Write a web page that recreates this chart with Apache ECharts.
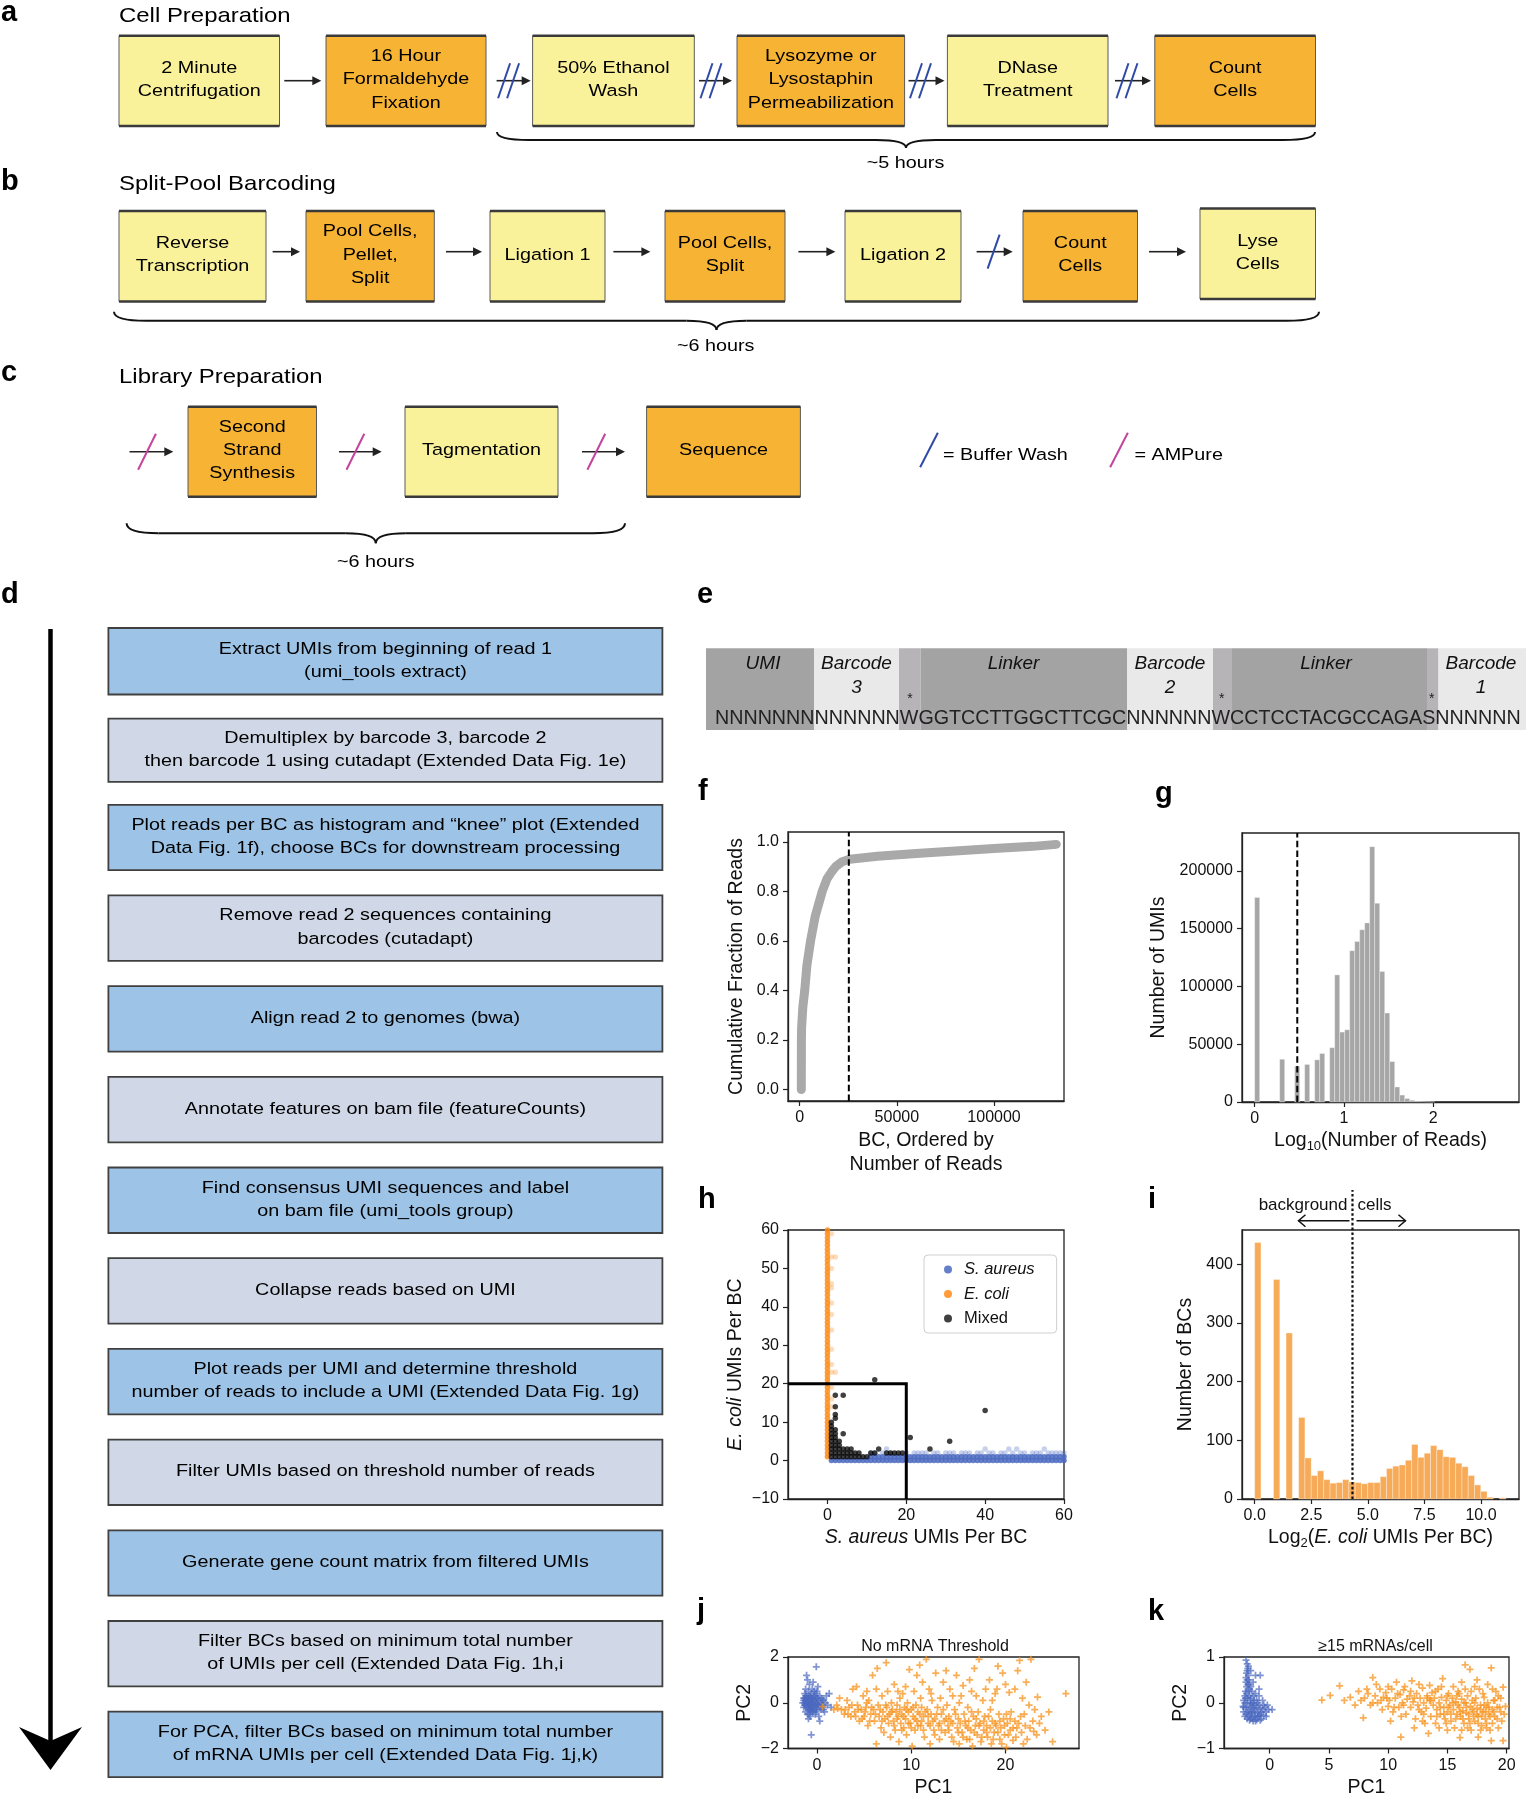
<!DOCTYPE html>
<html><head><meta charset="utf-8">
<script src="https://cdn.jsdelivr.net/npm/echarts@6/dist/echarts.min.js"></script>
<style>html,body{margin:0;padding:0;background:#fff}#c{width:1527px;height:1800px}</style>
</head><body><div id="c"></div>
<script>
// ================= DATA =================
// panel f: knee plot
const fRank = [850, 870, 900, 1000, 1600, 2600, 3700, 5600, 8000, 11600, 14000, 16500, 18500, 21900, 25700, 40000, 60000, 80000, 100000, 120000, 132000];
const fFraction = [0.0, 0.1, 0.2, 0.25, 0.33, 0.4, 0.5, 0.6, 0.7, 0.8, 0.85, 0.88, 0.9, 0.92, 0.93, 0.942, 0.953, 0.963, 0.973, 0.982, 0.99];
const fThreshold = 25300;
const fTicksX = [0, 50000, 100000];
const fTicksY = [0, 0.2, 0.4, 0.6, 0.8, 1.0];

// panel g: reads per UMI histogram (log10)
const gBinWidth = 0.056;
const gBinStart = [0.000, 0.280, 0.448, 0.560, 0.672, 0.728, 0.840, 0.896, 0.952, 1.008, 1.064, 1.120, 1.176, 1.232, 1.288, 1.344, 1.400, 1.456, 1.512, 1.568, 1.624, 1.680, 1.736, 1.792, 1.848, 1.904, 1.960];
const gCount = [177000, 37000, 31000, 32500, 36500, 42000, 47000, 110000, 60500, 62500, 131000, 139000, 149000, 155000, 221000, 172000, 113000, 77000, 35000, 13000, 6000, 3000, 1500, 800, 400, 200, 100];
const gThreshold = 0.477;
const gTicksX = [0, 1, 2];
const gTicksY = [0, 50000, 100000, 150000, 200000];

// panel h: species mixing
const hEcoliX0Y = [1,2,3,4,5,6,7,8,9,10,11,12,13,14,15,16,17,18,19,20,21,22,23,24,25,26,27,28,29,30,31,32,33,34,35,36,37,38,39,40,41,42,43,44,45,46,47,48,49,50,51,52,53,54,55,56,57,58,59,60];
const hEcoliFaint = [[1,59],[1,53],[2,53],[1,50],[1,46],[1,45],[1,41],[1,38],[1,34],[1,29],[1,25],[2,23],[1,23],[1,19],[1,16],[1,14]];
const hAureusY0X = [1,2,3,4,5,6,7,8,9,10,11,12,13,14,15,16,17,18,19,20,21,22,23,24,25,26,27,28,29,30,31,32,33,34,35,36,37,38,39,40,41,42,43,44,45,46,47,48,49,50,51,52,53,54,55,56,57,58,59,60];
const hAureusY1X = [11,12,13,14,15,16,17,18,19,20,21,22,23,24,25,26,27,28,29,30,31,32,33,34,35,36,37,38,39,40,41,42,43,44,45,46,47,48,49,50,51,52,53,54,55,56,57,58,59,60];
const hAureusFaint = [[11,2],[12,2],[14,2],[16,2],[20,2],[22,2],[23,2],[24,2],[25,2],[27,2],[28,2],[30,2],[31,2],[32,2],[34,2],[35,2],[36,2],[38,2],[39,2],[41,2],[42,2],[44,2],[45,2],[47,2],[49,2],[50,2],[52,2],[53,2],[54,2],[56,2],[57,2],[58,2],[59,2],[60,2],[15,3],[40,3],[46,3],[48,3],[55,3]];
const hMixed = [[1,1],[1,2],[1,3],[1,4],[1,5],[1,6],[1,7],[1,8],[1,9],[1,10],[2,1],[2,2],[2,3],[2,4],[2,5],[2,6],[2,7],[2,8],[2,11],[2,12],[2,14],[2,17],[3,1],[3,2],[3,3],[3,4],[3,5],[4,1],[4,2],[4,3],[4,7],[4,17],[5,1],[5,2],[5,3],[6,1],[6,2],[6,3],[7,1],[7,2],[8,1],[8,2],[9,1],[10,1],[11,2],[12,2],[12,21],[13,3],[15,2],[16,2],[17,2],[18,2],[19,2],[21,6],[26,3],[31,5],[40,13]];
const hGate = [[-10,20],[20,20],[20,-10]];
const hTicksX = [0, 20, 40, 60];
const hTicksY = [-10, 0, 10, 20, 30, 40, 50, 60];

// panel i: E. coli UMIs per BC histogram (log2)
const iBinWidth = 0.2775;
const iBinStart = [0, 0.8325, 1.3875, 1.9425, 2.22, 2.4975, 2.775, 3.0525, 3.33, 3.6075, 3.885, 4.1625, 4.44, 4.7175, 4.995, 5.2725, 5.55, 5.8275, 6.105, 6.3825, 6.66, 6.9375, 7.215, 7.4925, 7.77, 8.0475, 8.325, 8.6025, 8.88, 9.1575, 9.435, 9.7125, 9.99, 10.2675, 10.8225];
const iCount = [437, 374, 283, 139, 70, 40, 48, 33, 27, 28, 33, 29, 28, 26, 28, 28, 38, 52, 56, 58, 66, 93, 71, 78, 91, 84, 72, 71, 61, 55, 40, 24, 13, 3, 2];
const iThreshold = 4.3219;
const iTicksX = [0, 2.5, 5, 7.5, 10];
const iTicksY = [0, 100, 200, 300, 400];

// panel j: PCA, no mRNA threshold
const jAureus = [[-1.5,0.0],[-1.4,0.2],[-1.4,-0.2],[-1.3,0.4],[-1.3,-0.1],[-1.2,0.1],[-1.2,-0.4],[-1.1,1.2],[-1.1,0.3],[-1.1,-0.2],[-1.0,1.0],[-1.0,0.0],[-1.0,-0.5],[-0.9,0.5],[-0.9,0.2],[-0.9,-0.1],[-0.8,0.1],[-0.8,-0.3],[-0.8,0.8],[-0.7,0.3],[-0.7,-0.1],[-0.7,-0.6],[-0.6,0.0],[-0.6,0.4],[-0.6,-0.3],[-0.6,-1.4],[-0.5,0.2],[-0.5,-0.2],[-0.5,0.6],[-0.4,0.0],[-0.4,-0.4],[-0.3,0.3],[-0.3,-0.1],[-0.2,0.1],[-0.2,-0.5],[-0.1,0.4],[-0.1,-0.2],[-0.07,1.57],[0.0,0.0],[0.0,-0.3],[0.1,0.2],[0.1,0.7],[0.2,-0.1],[0.2,-0.6],[0.3,0.3],[0.4,0.0],[0.4,-0.3],[0.5,0.2],[0.6,-0.2],[0.7,0.1],[0.8,-0.4],[0.9,0.0],[1.0,0.3],[1.1,-0.1],[1.3,0.4],[1.5,-0.2],[-1.2,0.6],[-0.4,0.9],[-0.9,-0.7],[0.3,-0.8],
  [-1.4,0.1],[-1.3,0.0],[-1.2,-0.1],[-1.1,0.1],[-1.0,0.2],[-1.0,-0.2],[-0.9,0.0],[-0.9,-0.3],[-0.8,0.3],[-0.8,-0.1],[-0.7,0.1],[-0.7,-0.3],[-0.6,0.2],[-0.6,-0.1],[-0.5,0.0],[-0.5,-0.4],[-0.4,0.2],[-0.4,-0.2],[-0.3,0.1],[-0.3,-0.3],[-0.2,0.3],[-0.2,-0.1],[-0.1,0.0],[-0.1,-0.4],[0.0,0.2],[0.1,-0.1],[0.2,0.1],[0.3,-0.2],[0.5,-0.1],[0.6,0.1],[-1.3,0.2],[-1.2,0.3],[-0.3,0.5],[-0.8,-0.5],[0.0,0.5],[0.7,-0.3]];
const jEcoli = [[2.1,-0.1],[2.4,0.2],[2.6,-0.3],[2.9,-0.5],[3.2,0.1],[3.4,-0.2],[3.6,-0.6],[3.8,0.6],[4.0,-0.4],[4.2,0.7],[4.3,-0.1],[4.5,-0.8],[4.7,-0.3],[4.9,0.3],[5.0,-0.6],[5.2,-0.2],[5.4,-1.0],[5.5,0.1],[5.7,-0.5],[5.9,1.2],[6.0,-0.3],[6.1,-0.8],[6.3,-1.8],[6.4,1.5],[6.5,-0.1],[6.6,-0.6],[6.8,-1.1],[6.9,0.3],[7.0,-0.4],[7.1,-1.3],[7.2,-0.7],[7.35,1.75],[7.4,-0.2],[7.5,0.5],[7.6,-0.9],[7.7,-0.5],[7.8,-1.5],[7.9,0.0],[8.0,-0.3],[8.1,-0.8],[8.2,0.8],[8.3,-1.2],[8.4,-0.4],[8.5,-0.1],[8.6,-0.6],[8.7,-1.7],[8.8,0.2],[8.9,-0.9],[9.0,-0.5],[9.1,0.4],[9.2,-1.1],[9.3,-0.2],[9.4,-0.7],[9.5,-1.4],[9.6,0.0],[9.7,-0.4],[9.8,1.45],[9.9,-0.9],[10.0,-0.3],[10.1,-1.9],[10.2,-0.6],[10.3,0.5],[10.4,-1.2],[10.5,-0.1],[10.6,-0.8],[10.7,-0.4],[10.9,1.65],[11.0,-1.0],[11.1,-0.2],[11.2,0.9],[11.3,-0.6],[11.4,-1.5],[11.6,1.9],[11.7,-0.3],[11.8,-0.9],[11.9,0.6],[12.0,-1.8],[12.1,-0.5],[12.2,0.1],[12.4,-1.2],[12.5,-0.7],[12.6,1.3],[12.8,-0.2],[12.9,-1.0],[13.0,-1.6],[13.2,-0.5],[13.4,0.9],[13.5,-0.8],[13.6,-1.3],[13.8,-0.1],[13.9,-1.0],[14.0,-0.6],[14.1,0.6],[14.3,-1.5],[14.4,-0.9],[14.6,-0.3],[14.8,1.2],[14.9,-1.1],[15.0,-0.7],[15.1,-1.8],[15.3,0.3],[15.4,-1.3],[15.5,0.75],[15.6,-0.5],[15.8,-1.0],[15.9,-1.6],[16.0,-0.2],[16.1,-0.8],[16.3,-1.2],[16.4,0.5],[16.5,-1.9],[16.6,-0.6],[16.7,1.5],[16.8,-1.0],[17.0,-1.4],[17.1,-0.4],[17.2,1.9],[17.3,-0.9],[17.4,-1.7],[17.6,0.1],[17.7,-1.2],[17.8,-0.6],[18.0,-1.0],[18.1,-1.5],[18.3,1.0],[18.4,-0.3],[18.5,-1.8],[18.6,-0.8],[18.8,-1.3],[18.9,0.4],[19.0,-1.0],[19.1,0.6],[19.3,-0.5],[19.4,-1.6],[19.5,-1.1],[19.7,1.3],[19.8,-0.7],[19.9,-1.4],[20.1,-1.95],[20.2,-0.9],[20.4,0.45],[20.5,-1.2],[20.6,-0.4],[20.8,-1.65],[21.0,-0.8],[21.2,-1.1],[21.3,1.4],[21.5,1.85],[21.6,-0.6],[21.8,0.2],[21.9,-1.8],[22.1,-1.0],[22.5,-0.1],[22.7,1.9],[22.9,-0.8],[23.0,-1.25],[23.3,-1.4],[23.4,0.25],[23.8,-0.6],[25.0,-1.7],[26.4,0.4],[0.6,-0.17],[1.8,-0.3],[2.2,-0.25],
  [3.0,-0.3],[3.3,-0.5],[3.7,-0.1],[4.1,-0.6],[4.4,-0.3],[4.8,-0.7],[5.1,-0.4],[5.3,0.0],[5.6,-0.8],[5.8,-0.2],[6.2,-0.5],[6.7,-0.3],[6.9,-0.8],[7.3,-0.1],[7.5,-0.6],[7.9,-0.4],[8.2,-1.0],[8.5,-0.7],[8.8,-0.3],[9.0,-1.2],[9.2,-0.6],[9.5,-0.3],[9.7,-0.9],[10.0,-1.1],[10.2,-0.2],[10.4,-0.7],[10.7,-1.0],[10.9,-0.5],[11.1,-0.8],[11.3,-1.2],[11.5,-0.4],[11.8,-0.6],[12.0,-1.0],[12.3,-0.8],[12.5,-1.4],[12.7,-0.5],[13.0,-0.9],[13.2,-1.2],[13.4,-0.3],[13.7,-0.7],[14.0,-1.2],[14.2,-0.8],[14.5,-1.7],[14.7,-0.5],[15.0,-1.3],[15.2,-0.9],[15.5,-1.5],[15.7,-0.8],[16.0,-1.1],[16.2,-1.6],[16.4,-0.4],[16.7,-1.3],[16.9,-0.7],[17.2,-1.0],[17.5,-1.5],[17.7,-0.8],[18.0,-1.3],[18.2,-0.6],[18.4,-1.1],[18.7,-1.6],[18.9,-0.9],[19.2,-1.3],[19.4,-0.8],[19.6,-1.8],[19.9,-1.0],[20.1,-0.5],[20.3,-1.4],[20.5,-0.7],[20.8,-1.1],[21.1,-1.5],[21.4,-0.9],[21.7,-1.3],[22.0,-0.5],[22.3,-1.6],[22.6,-1.1],[23.6,-0.9],[24.2,-1.2],[24.6,-0.4],[12.1,0.4],[13.1,0.2],[15.1,0.0],[16.9,0.3],[18.6,0.1],[20.0,0.8],[19.2,1.6],[17.9,0.6],[14.4,0.3],[11.0,0.2],[9.4,0.7],[8.6,0.5],[6.3,0.6],[5.3,0.5],[21.0,0.6],[22.2,0.9],[23.1,-0.3],[16.2,1.0],[13.7,1.4],[10.6,1.2]];
const jTicksX = [0, 10, 20];
const jTicksY = [-2, 0, 2];

// panel k: PCA, >=15 mRNAs/cell
const kAureus = [[-2.0,0.93],[-1.9,0.85],[-1.85,0.75],[-1.95,0.65],[-1.8,0.6],[-1.9,0.5],[-2.0,0.45],[-1.75,0.4],[-1.2,0.6],[-0.8,0.6],[-1.95,0.35],[-1.7,0.3],[-2.05,0.25],[-1.5,0.25],[-1.2,0.2],[-0.9,0.15],[-2.1,0.15],[-1.85,0.1],[-1.6,0.1],[-1.3,0.05],[-2.2,0.05],[-1.9,0.0],[-1.6,-0.02],[-1.3,-0.05],[-1.0,0.0],[-0.6,0.05],[-2.25,-0.08],[-2.0,-0.1],[-1.7,-0.1],[-1.4,-0.12],[-1.1,-0.1],[-0.8,-0.12],[-0.4,-0.1],[-0.1,-0.15],[-2.2,-0.2],[-1.9,-0.2],[-1.6,-0.22],[-1.3,-0.2],[-1.0,-0.22],[-0.7,-0.2],[-0.3,-0.2],[-2.1,-0.3],[-1.8,-0.3],[-1.5,-0.32],[-1.2,-0.3],[-0.9,-0.28],[-0.5,-0.28],[-1.7,-0.38],[-1.4,-0.4],[-1.1,-0.37],[-0.7,-0.35],[0.2,-0.15],[-0.9,0.3],[-1.4,0.45],[-1.6,0.7],
  [-2.2,-0.1],[-2.0,-0.25],[-1.8,-0.15],[-1.7,-0.25],[-1.5,-0.05],[-1.5,-0.2],[-1.4,0.0],[-1.3,-0.3],[-1.2,-0.15],[-1.1,0.05],[-1.0,-0.3],[-0.9,-0.05],[-0.8,-0.25],[-0.6,-0.15],[-0.5,-0.05],[-0.3,-0.3],[-0.2,-0.05],[-2.1,0.0],[-1.95,0.2],[-1.8,0.25],[-1.7,0.15],[-1.6,0.35],[-1.85,0.4],[-1.9,0.7],[-2.0,0.55],[-1.75,0.5],[-1.8,0.8],[-2.05,0.1],[-1.65,0.05],[-1.35,0.15],[-1.6,-0.35],[-1.9,-0.35],[-1.2,-0.4],[-0.8,-0.38]];
const kEcoli = [[4.4,0.06],[5.1,0.16],[5.9,0.37],[6.3,0.05],[6.8,0.12],[7.2,-0.05],[7.5,0.25],[7.9,-0.33],[8.0,0.1],[8.3,0.2],[8.5,-0.05],[8.7,0.55],[8.9,0.15],[9.1,0.0],[9.3,0.3],[9.5,-0.15],[9.6,0.12],[9.8,0.22],[10.0,-0.08],[10.1,0.05],[10.3,0.3],[10.4,-0.2],[10.6,0.1],[10.7,0.45],[10.9,-0.1],[11.0,0.18],[11.07,-0.75],[11.2,0.0],[11.3,0.28],[11.5,-0.25],[11.6,0.08],[11.8,0.15],[11.9,-0.1],[12.0,0.48],[12.1,0.02],[12.3,-0.35],[12.4,0.2],[12.5,-0.05],[12.7,0.1],[12.8,-0.2],[12.9,0.32],[13.0,0.0],[13.2,-0.12],[13.3,0.15],[13.4,-0.67],[13.5,0.05],[13.6,-0.3],[13.7,0.22],[13.8,-0.05],[13.9,0.1],[14.0,-0.45],[14.1,-0.15],[14.2,0.3],[14.3,0.0],[14.4,-0.25],[14.5,0.12],[14.6,0.53],[14.7,-0.1],[14.8,-0.35],[14.9,0.05],[15.0,-0.2],[15.1,0.2],[15.2,-0.05],[15.3,-0.4],[15.4,0.1],[15.5,-0.15],[15.6,-0.55],[15.7,0.02],[15.8,-0.25],[15.9,0.25],[16.0,-0.1],[16.06,-0.76],[16.1,-0.3],[16.2,0.08],[16.3,-0.18],[16.4,-0.45],[16.5,0.83],[16.55,0.0],[16.6,-0.22],[16.7,0.15],[16.8,-0.35],[16.9,0.73],[16.95,-0.08],[17.0,-0.6],[17.1,0.05],[17.2,-0.2],[17.3,-0.4],[17.4,0.1],[17.5,-0.12],[17.6,-0.3],[17.7,0.3],[17.8,-0.05],[17.9,-0.5],[18.0,-0.2],[18.1,0.12],[18.2,-0.35],[18.3,-0.1],[18.4,0.0],[18.5,-0.25],[18.6,-0.6],[18.7,0.76],[18.7,-0.83],[18.8,-0.15],[18.9,0.05],[19.0,-0.3],[19.2,-0.1],[19.3,0.15],[19.5,-0.2],[19.7,0.34],[19.7,-0.83],[19.9,-0.08],[19.6,-0.4],[15.5,0.35],[16.2,0.45],[14.3,-0.55],[17.5,0.5],[18.4,0.4],[12.6,0.4],[13.1,-0.45],[11.4,0.35],[10.2,-0.4],[9.0,0.4],[17.0,0.25],[18.0,0.2],[19.1,0.25],[16.0,0.2],[15.0,0.15],[14.0,0.25],[13.5,0.38],[12.2,-0.55],[17.6,-0.75],[18.3,-0.45],[16.7,-0.55],
  [14.1,-0.3],[14.4,-0.1],[14.7,-0.25],[14.9,-0.45],[15.1,-0.1],[15.3,-0.25],[15.5,0.0],[15.7,-0.35],[15.9,-0.05],[16.1,-0.2],[16.3,-0.35],[16.4,0.0],[16.6,-0.1],[16.8,-0.25],[16.9,-0.45],[17.1,-0.15],[17.2,-0.3],[17.3,0.0],[17.5,-0.25],[17.6,-0.45],[17.8,-0.15],[17.9,-0.3],[18.1,-0.05],[18.2,-0.2],[18.3,-0.55],[18.5,-0.1],[18.6,-0.3],[18.8,-0.45],[18.9,-0.2],[19.0,0.05],[19.2,-0.35],[19.4,-0.1],[19.5,0.1],[19.8,-0.25],[13.0,-0.25],[13.3,0.1],[12.6,-0.15],[12.2,0.1],[11.9,0.25],[11.3,-0.05],[10.8,0.2],[10.5,-0.1],[9.9,0.1],[9.4,0.05],[8.7,0.0],[8.2,0.3],[7.7,0.05],[10.0,0.35],[11.1,-0.3],[12.9,-0.4],[13.6,0.05],[14.5,0.35],[15.8,0.15],[16.5,0.3],[17.3,0.35],[18.8,0.3],[19.3,-0.55],[16.2,-0.6],[17.8,-0.6],[15.0,-0.6]];
const kTicksX = [0, 5, 10, 15, 20];
const kTicksY = [-1, 0, 1];

// diagram texts
const aSteps = ['2 Minute\nCentrifugation', '16 Hour\nFormaldehyde\nFixation', '50% Ethanol\nWash', 'Lysozyme or\nLysostaphin\nPermeabilization', 'DNase\nTreatment', 'Count\nCells'];
const bSteps = ['Reverse\nTranscription', 'Pool Cells,\nPellet,\nSplit', 'Ligation 1', 'Pool Cells,\nSplit', 'Ligation 2', 'Count\nCells', 'Lyse\nCells'];
const cSteps = ['Second\nStrand\nSynthesis', 'Tagmentation', 'Sequence'];
const dSteps = [
  'Extract UMIs from beginning of read 1\n(umi_tools extract)',
  'Demultiplex by barcode 3, barcode 2\nthen barcode 1 using cutadapt (Extended Data Fig. 1e)',
  'Plot reads per BC as histogram and \u201cknee\u201d plot (Extended\nData Fig. 1f), choose BCs for downstream processing',
  'Remove read 2 sequences containing\nbarcodes (cutadapt)',
  'Align read 2 to genomes (bwa)',
  'Annotate features on bam file (featureCounts)',
  'Find consensus UMI sequences and label\non bam file (umi_tools group)',
  'Collapse reads based on UMI',
  'Plot reads per UMI and determine threshold\nnumber of reads to include a UMI (Extended Data Fig. 1g)',
  'Filter UMIs based on threshold number of reads',
  'Generate gene count matrix from filtered UMIs',
  'Filter BCs based on minimum total number\nof UMIs per cell (Extended Data Fig. 1h,i',
  'For PCA, filter BCs based on minimum total number\nof mRNA UMIs per cell (Extended Data Fig. 1j,k)'
];
const eSequence = 'NNNNNNNNNNNNNWGGTCCTTGGCTTCGCNNNNNNWCCTCCTACGCCAGASNNNNNN';

// ================= RENDER =================
const FONT = "'Liberation Sans', Arial, Helvetica, sans-serif";
const YEL = '#FAF29B', ORA = '#F6B334', DBLUE = '#9DC3E6', DGRAY = '#D0D8E7';
const BLUE = '#4A68BF', ORANGE = '#FF8C17';
const SLASH_B = '#2E4AA6', SLASH_M = '#C2449C';
const SX = 1.215, FS = 16.3, LH = 23.3;

const G = [];
function T(x, y, text, o) {
  o = o || {};
  const al = o.align || 'center', va = o.va || 'middle';
  G.push({type: 'text', x: x, y: y, scaleX: o.sx || 1, z: 20,
    style: {text: text, fill: o.color || '#000', fontSize: o.fs || FS, fontFamily: FONT,
      fontStyle: o.italic ? 'italic' : 'normal', fontWeight: o.bold ? 'bold' : 'normal',
      align: al, verticalAlign: va, textAlign: al, textVerticalAlign: va, lineHeight: o.lh || LH}});
}
function box(x1, y1, x2, y2, fill, text) {
  G.push({type: 'rect', shape: {x: x1, y: y1, width: x2 - x1, height: y2 - y1}, style: {fill: fill, stroke: '#5a5a5a', lineWidth: 1}, z: 5});
  G.push({type: 'line', shape: {x1: x1, y1: y1, x2: x2, y2: y1}, style: {stroke: '#3a3a3a', lineWidth: 2.4}, z: 6});
  G.push({type: 'line', shape: {x1: x1, y1: y2, x2: x2, y2: y2}, style: {stroke: '#3a3a3a', lineWidth: 2.4}, z: 6});
  T((x1 + x2) / 2, (y1 + y2) / 2 - 1, text, {sx: SX});
}
function arrow(x1, x2, y) {
  G.push({type: 'line', shape: {x1: x1, y1: y, x2: x2 - 6, y2: y}, style: {stroke: '#222', lineWidth: 1.6}, z: 6});
  G.push({type: 'polygon', shape: {points: [[x2, y], [x2 - 9, y - 4.5], [x2 - 9, y + 4.5]]}, style: {fill: '#222'}, z: 6});
}
function slash(xc, yc, dx, dy, color) {
  G.push({type: 'line', shape: {x1: xc - dx / 2, y1: yc + dy / 2, x2: xc + dx / 2, y2: yc - dy / 2}, style: {stroke: color, lineWidth: 2}, z: 7});
}
function brace(xa, xb, y0, ym, y1) {
  const xc = (xa + xb) / 2, r = 32, rt = 30;
  const st = {stroke: '#111', lineWidth: 2, fill: 'none'};
  G.push({type: 'bezierCurve', shape: {x1: xa, y1: y0, x2: xa + r, y2: ym, cpx1: xa, cpy1: ym}, style: st});
  G.push({type: 'line', shape: {x1: xa + r, y1: ym, x2: xc - rt, y2: ym}, style: st});
  G.push({type: 'bezierCurve', shape: {x1: xc - rt, y1: ym, x2: xc, y2: y1, cpx1: xc, cpy1: ym}, style: st});
  G.push({type: 'bezierCurve', shape: {x1: xc + rt, y1: ym, x2: xc, y2: y1, cpx1: xc, cpy1: ym}, style: st});
  G.push({type: 'line', shape: {x1: xc + rt, y1: ym, x2: xb - r, y2: ym}, style: st});
  G.push({type: 'bezierCurve', shape: {x1: xb, y1: y0, x2: xb - r, y2: ym, cpx1: xb, cpy1: ym}, style: st});
}
function letter(ch, x, baseline) { T(x, baseline - 10.2, ch, {fs: 29, bold: true, align: 'left'}); }

// ---- panel a ----
letter('a', 1, 23.3);
T(119, 16, 'Cell Preparation', {fs: 21, sx: 1.14, align: 'left'});
const aX = [[119, 279.5], [326, 486], [532.6, 694.3], [737, 904.6], [947.4, 1108], [1154.8, 1315.5]];
const aFill = [YEL, ORA, YEL, ORA, YEL, ORA];
aX.forEach((p, i) => box(p[0], 35.7, p[1], 126, aFill[i], aSteps[i]));
[[284.3, 321.3], [496.6, 530.7], [699, 732], [908.5, 944.5], [1115, 1151]].forEach((p, i) => {
  arrow(p[0], p[1], 80.7);
  if (i > 0) { slash(p[0] + 7.5, 80.7, 12, 35, SLASH_B); slash(p[0] + 16.5, 80.7, 12, 35, SLASH_B); }
});
brace(497, 1315, 132, 140, 148);
T(905.5, 164, '~5 hours', {sx: SX});

// ---- panel b ----
letter('b', 1, 191.7);
T(119, 184, 'Split-Pool Barcoding', {fs: 21, sx: 1.14, align: 'left'});
const bX = [[119, 266], [306, 434.3], [490, 605], [665, 785], [845, 961], [1023, 1137.5], [1200, 1315.5]];
const bFill = [YEL, ORA, YEL, ORA, YEL, ORA, YEL];
bX.forEach((p, i) => { const y1 = i === 6 ? 208.5 : 211, y2 = i === 6 ? 299 : 301.5; box(p[0], y1, p[1], y2, bFill[i], bSteps[i]); });
[[272.6, 300], [446, 482], [613.4, 650.4], [798.4, 835.4], [976.6, 1012.7], [1149, 1186]].forEach((p, i) => {
  arrow(p[0], p[1], 251.7);
  if (i === 4) slash(p[0] + 17, 251.7, 12, 34, SLASH_B);
});
brace(114, 1319, 311.7, 320.7, 330);
T(715.7, 346.5, '~6 hours', {sx: SX});

// ---- panel c ----
letter('c', 1, 383);
T(119, 377, 'Library Preparation', {fs: 21, sx: 1.14, align: 'left'});
const cX = [[188, 316.5], [405, 558], [646.6, 800.4]];
const cFill = [ORA, YEL, ORA];
cX.forEach((p, i) => box(p[0], 406.7, p[1], 496.7, cFill[i], cSteps[i]));
[[129.5, 173.3, 147], [339, 381.7, 355.4], [582, 625, 596.3]].forEach(p => {
  arrow(p[0], p[1], 451.7);
  slash(p[2], 451.7, 17.8, 36, SLASH_M);
});
slash(929, 450, 17.7, 34.6, SLASH_B);
T(943, 456, '= Buffer Wash', {sx: SX, align: 'left'});
slash(1119, 450, 17.7, 34.6, SLASH_M);
T(1134.4, 456, '= AMPure', {sx: SX, align: 'left'});
brace(126.6, 625, 523.3, 533.3, 543.3);
T(375.8, 563, '~6 hours', {sx: SX});

// ---- panel d ----
letter('d', 1, 605);
const dTop = [628, 718.6, 804.8, 895.4, 986.1, 1076.8, 1167.5, 1258.2, 1348.9, 1439.6, 1530.3, 1621, 1711.7];
const dBot = [694.5, 781.8, 870.2, 960.9, 1051.6, 1142.3, 1233, 1323.6, 1414.3, 1505, 1595.7, 1686.4, 1777.1];
dSteps.forEach((s, i) => {
  G.push({type: 'rect', shape: {x: 108.4, y: dTop[i], width: 554, height: dBot[i] - dTop[i]}, style: {fill: i % 2 === 0 ? DBLUE : DGRAY, stroke: '#404040', lineWidth: 1.8}, z: 5});
  T(385.4, (dTop[i] + dBot[i]) / 2 - 0.5, s, {sx: SX});
});
G.push({type: 'line', shape: {x1: 50.5, y1: 629, x2: 50.5, y2: 1745}, style: {stroke: '#000', lineWidth: 4.5}, z: 5});
G.push({type: 'polygon', shape: {points: [[19, 1727], [50.5, 1741], [82, 1727], [50.5, 1770]]}, style: {fill: '#000'}, z: 5});

// ---- panel e ----
letter('e', 697, 605);
const eSeg = [[706, 814, '#A3A3A3'], [814, 899, '#E9E9E9'], [899, 920.6, '#B6B4B6'], [920.6, 1127, '#A3A3A3'], [1127, 1213, '#E9E9E9'], [1213, 1232, '#B6B4B6'], [1232, 1427, '#A3A3A3'], [1427, 1438.5, '#B6B4B6'], [1438.5, 1526, '#E9E9E9']];
eSeg.forEach(s => G.push({type: 'rect', shape: {x: s[0], y: 648.3, width: s[1] - s[0], height: 81.7}, style: {fill: s[2]}, z: 4}));
[['UMI', 763, ''], ['Barcode', 856.5, '3'], ['Linker', 1013.5, ''], ['Barcode', 1170, '2'], ['Linker', 1326, ''], ['Barcode', 1481, '1']].forEach(l => {
  T(l[1], 663.5, l[0], {fs: 19, italic: true, color: '#111'});
  if (l[2]) T(l[1], 687.5, l[2], {fs: 19, italic: true, color: '#111'});
});
[910, 1221.7, 1431.7].forEach(x => T(x, 699, '*', {fs: 14, color: '#222'}));
T(715, 719, eSequence, {fs: 19.7, align: 'left', color: '#222'});

// ---- chart panel letters & titles ----
letter('f', 698, 801.7);
letter('g', 1155, 803.7);
letter('h', 698, 1210);
letter('i', 1148, 1210);
letter('j', 697, 1620.7);
letter('k', 1148, 1621.7);
T(935, 1646.5, 'No mRNA Threshold', {fs: 16, color: '#111'});
T(1375.5, 1646.5, '\u226515 mRNAs/cell', {fs: 16, color: '#111'});

// ---- axes ----
const minus = v => (v < 0 ? '\u2212' + Math.abs(v) : String(v));
const fix1 = v => (v < 0 ? '\u2212' : '') + Math.abs(v).toFixed(1);
const NFS = 19.5;
const RICH = {
  n: {fontSize: NFS, fontFamily: FONT, color: '#111', verticalAlign: 'middle', lineHeight: 25},
  i: {fontSize: NFS, fontFamily: FONT, color: '#111', fontStyle: 'italic', verticalAlign: 'middle', lineHeight: 25},
  s: {fontSize: 13, fontFamily: FONT, color: '#111', verticalAlign: 'bottom', lineHeight: 15}
};
function vAxis(gi, min, max, ticks, o) {
  o = o || {};
  return {
    type: 'value', gridIndex: gi, min: min, max: max,
    name: o.name || '', nameLocation: 'middle', nameGap: o.gap,
    nameTextStyle: Object.assign({fontSize: NFS, color: '#111', fontFamily: FONT, lineHeight: 23.5, rich: RICH}, o.ns || {}),
    axisLine: {show: true, onZero: false, lineStyle: {color: '#222', width: 1.3}},
    axisTick: {show: true, inside: false, length: 5, customValues: ticks, lineStyle: {color: '#222', width: 1.2}},
    axisLabel: {show: true, fontSize: 16, color: '#111', fontFamily: FONT, margin: 9, customValues: ticks, formatter: o.fmt || minus},
    splitLine: {show: false}
  };
}
function gridBox(left, top, width, height) {
  return {left: left, top: top, width: width, height: height, show: true, borderColor: '#222', borderWidth: 1.3, backgroundColor: 'transparent', containLabel: false};
}
const grids = [gridBox(788, 832, 276, 269), gridBox(1242, 833, 277, 269), gridBox(788, 1230, 276, 269), gridBox(1242, 1230, 277, 269), gridBox(788, 1657, 291, 95), gridBox(1224, 1657, 285, 95)];
const xAxes = [
  vAxis(0, -6000, 136000, fTicksX, {name: 'BC, Ordered by\nNumber of Reads', gap: 28}),
  vAxis(1, -0.142, 2.96, gTicksX, {name: '{n|Log}{s|10}{n|(Number of Reads)}', gap: 25}),
  vAxis(2, -10, 60, hTicksX, {name: '{i|S. aureus}{n| UMIs Per BC}', gap: 24}),
  vAxis(3, -0.56, 11.68, iTicksX, {name: '{n|Log}{s|2}{n|(}{i|E. coli}{n| UMIs Per BC)}', gap: 24, fmt: fix1}),
  vAxis(4, -3.07, 27.8, jTicksX, {name: 'PC1', gap: 27}),
  vAxis(5, -3.86, 20.2, kTicksX, {name: 'PC1', gap: 27})
];
const yAxes = [
  vAxis(0, -0.046, 1.04, fTicksY, {name: 'Cumulative Fraction of Reads', gap: 40, fmt: fix1}),
  vAxis(1, 0, 232800, gTicksY, {name: 'Number of UMIs', gap: 72}),
  vAxis(2, -10, 60, hTicksY, {name: '{i|E. coli}{n| UMIs Per BC}', gap: 39}),
  vAxis(3, 0, 458.5, iTicksY, {name: 'Number of BCs', gap: 45}),
  vAxis(4, -2, 2, jTicksY, {name: 'PC2', gap: 31}),
  vAxis(5, -1, 1, kTicksY, {name: 'PC2', gap: 32})
];

// ---- series ----
function histRender(binW, color) {
  return function (params, api) {
    const x0 = api.value(0), y = api.value(1);
    const p0 = api.coord([x0, y]), p1 = api.coord([x0 + binW, 0]);
    return {type: 'rect', shape: {x: p0[0], y: p0[1], width: p1[0] - p0[0], height: p1[1] - p0[1]},
      style: {fill: color, stroke: 'rgba(255,255,255,0.55)', lineWidth: 0.6}};
  };
}
function scat(name, gi, data, color, size, opacity, symbol) {
  return {type: 'scatter', name: name, xAxisIndex: gi, yAxisIndex: gi, data: data, symbol: symbol || 'circle', symbolSize: size,
    itemStyle: {color: color, opacity: opacity}, silent: true, animation: false, z: 3};
}
function vline(gi, x, y0, y1, dash) {
  return {type: 'line', xAxisIndex: gi, yAxisIndex: gi, data: [[x, y0], [x, y1]], symbol: 'none', silent: true, animation: false, z: 6,
    lineStyle: {color: '#000', width: 2, type: dash}};
}
const PLUS = 'path://M3,0H5V3H8V5H5V8H3V5H0V3H3Z';
const series = [
  // f
  {type: 'line', xAxisIndex: 0, yAxisIndex: 0, data: fRank.map((r, i) => [r, fFraction[i]]), symbol: 'none', silent: true, animation: false,
    lineStyle: {color: '#A9A9A9', width: 9, cap: 'round', join: 'round'}, z: 3},
  vline(0, fThreshold, -0.046, 1.04, [6.5, 3.3]),
  // g
  {type: 'custom', xAxisIndex: 1, yAxisIndex: 1, data: gBinStart.map((x, i) => [x, gCount[i]]), renderItem: histRender(gBinWidth, '#A6A6A6'), silent: true, animation: false, z: 2},
  vline(1, gThreshold, 0, 232800, [6.5, 3.3]),
  // h
  scat('S. aureus', 2, hAureusY0X.map(x => [x, 0]).concat(hAureusY1X.map(x => [x, 1])), BLUE, 5.5, 0.85),
  scat('S. aureus', 2, hAureusFaint, BLUE, 5.5, 0.3),
  scat('E. coli', 2, hEcoliX0Y.map(y => [0, y]), ORANGE, 5.5, 0.85),
  scat('E. coli', 2, hEcoliFaint, ORANGE, 5.5, 0.3),
  scat('Mixed', 2, hMixed, '#000', 5.5, 0.75),
  {type: 'line', xAxisIndex: 2, yAxisIndex: 2, data: hGate, symbol: 'none', silent: true, animation: false, z: 6,
    lineStyle: {color: '#000', width: 3, join: 'miter'}},
  // i
  {type: 'custom', xAxisIndex: 3, yAxisIndex: 3, data: iBinStart.map((x, i) => [x, iCount[i]]), renderItem: histRender(iBinWidth, '#F7AB58'), silent: true, animation: false, z: 2},
  // j
  scat('jA', 4, jAureus, BLUE, 7, 0.7, PLUS),
  scat('jE', 4, jEcoli, '#F7931E', 7, 0.75, PLUS),
  // k
  scat('kA', 5, kAureus, BLUE, 7, 0.7, PLUS),
  scat('kE', 5, kEcoli, '#F7931E', 7, 0.75, PLUS)
];

const chart = echarts.init(document.getElementById('c'), null, {renderer: 'canvas'});
chart.setOption({
  animation: false,
  backgroundColor: '#fff',
  textStyle: {fontFamily: FONT},
  grid: grids, xAxis: xAxes, yAxis: yAxes, series: series,
  legend: {
    data: ['S. aureus', 'E. coli', 'Mixed'], orient: 'vertical', left: 924, top: 1255,
    itemWidth: 22, itemHeight: 8, itemGap: 7.5, icon: 'circle', selectedMode: false,
    padding: [6, 22, 6, 20], backgroundColor: 'rgba(255,255,255,0.85)', borderColor: '#cfcfcf', borderWidth: 1, borderRadius: 4,
    textStyle: {fontSize: 16.5, color: '#111', fontFamily: FONT, rich: {i: {fontStyle: 'italic', fontSize: 16.5, fontFamily: FONT, color: '#111'}}},
    formatter: n => (n === 'Mixed' ? n : '{i|' + n + '}')
  }
});

// ---- panel i annotation (positions from the chart's own scale) ----
const pt = chart.convertToPixel({xAxisIndex: 3, yAxisIndex: 3}, [iThreshold, 0]);
const px = pt[0], pb = pt[1], ay = 1220.7;
G.push({type: 'line', shape: {x1: px, y1: pb, x2: px, y2: 1190}, style: {stroke: '#111', lineWidth: 2.2, lineDash: [2.6, 2.2]}, z: 30});
T(px - 5, 1205, 'background', {fs: 17, align: 'right', color: '#111'});
T(px + 5, 1205, 'cells', {fs: 17, align: 'left', color: '#111'});
G.push({type: 'line', shape: {x1: px - 3, y1: ay, x2: px - 54, y2: ay}, style: {stroke: '#111', lineWidth: 1.5}, z: 30});
G.push({type: 'polyline', shape: {points: [[px - 47, ay - 6], [px - 54, ay], [px - 47, ay + 6]]}, style: {stroke: '#111', lineWidth: 1.5, fill: 'none'}, z: 30});
G.push({type: 'line', shape: {x1: px + 4, y1: ay, x2: px + 53, y2: ay}, style: {stroke: '#111', lineWidth: 1.5}, z: 30});
G.push({type: 'polyline', shape: {points: [[px + 46, ay - 6], [px + 53, ay], [px + 46, ay + 6]]}, style: {stroke: '#111', lineWidth: 1.5, fill: 'none'}, z: 30});

chart.setOption({graphic: {elements: G}});
</script>
</body></html>
